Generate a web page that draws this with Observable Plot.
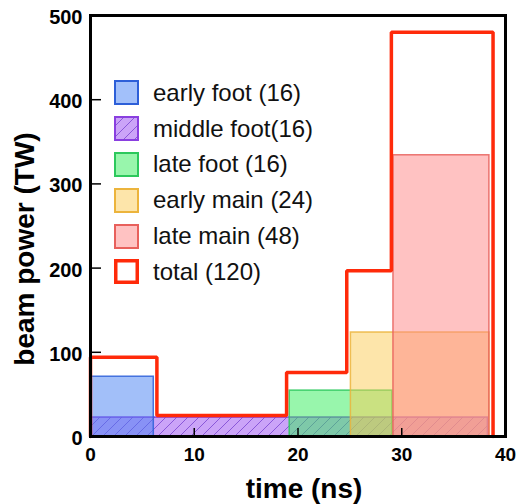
<!DOCTYPE html>
<html>
<head>
<meta charset="utf-8">
<script src="https://cdn.jsdelivr.net/npm/d3@7"></script>
<script src="https://cdn.jsdelivr.net/npm/@observablehq/plot@0.6"></script>
<style>
  html, body { margin: 0; padding: 0; background: #fff; }
  #wrap { position: relative; width: 516px; height: 504px; font-family: "Liberation Sans", Arial, Helvetica, sans-serif; }
  #legend { position: absolute; left: 114px; top: 75px; }
  .row { display: flex; align-items: center; height: 35.8px; }
  .row svg { display: block; }
  .row span { margin-left: 14px; font-size: 24px; color: #111; white-space: nowrap; }
</style>
</head>
<body>
<div id="wrap"></div>
<script>
// ---- data ----
const phases = ["early foot", "middle foot", "late foot", "early main", "late main"];
const legendLabels = ["early foot (16)", "middle foot(16)", "late foot (16)", "early main (24)", "late main (48)", "total (120)"];
const tStart = [0, 0, 19.2, 25.1, 29.2];          // ns
const tEnd = [6.1, 38.3, 29.1, 38.45, 38.45];      // ns
const powerTW = [71, 22.5, 54.5, 123.5, 334];      // TW
const totalTime = [0, 0, 6.4, 18.9, 24.7, 29.0, 38.8];
const totalPower = [0, 94, 25, 76, 197, 480, 0];
const xTicks = [0, 10, 20, 30, 40];
const yTicks = [0, 100, 200, 300, 400, 500];

// ---- styles ----
// base colours drawn at 50% opacity (so on white they show as light tints)
const fills = ["#4580f4", "#9749f1", "#31ed59", "#fbcb55", "#ff8585"];
const legendFills = ["#a2c0fa", "#cba4f8", "#98f6ac", "#fde5aa", "#ffc2c2", "white"];
const strokes = ["#2d5fd8", "#8a3fe0", "#2cc85c", "#ecb43c", "#e8605c"];
const totalColor = "#ff2a0a";
const font = "Liberation Sans, Arial, Helvetica, sans-serif";

const bars = phases.map((p, i) => ({phase: p, x1: tStart[i], x2: tEnd[i], y: powerTW[i], fill: fills[i], stroke: strokes[i]}));
const total = totalTime.map((t, i) => ({t, p: totalPower[i]}));

const defs = () => {
  const d = d3.create("svg:defs");
  const pat = d.append("pattern").attr("id", "hatchP").attr("patternUnits", "userSpaceOnUse")
    .attr("width", 11).attr("height", 11);
  pat.append("path").attr("d", "M0,11 L11,0 M-2,2 L2,-2 M9,13 L13,9")
    .attr("stroke", "#7a45d0").attr("stroke-width", 0.8).attr("fill", "none");
  return d.node();
};

const purple = [bars[1]];
const others = [bars[0], bars[2], bars[3], bars[4]];

const chart = Plot.plot({
  width: 516,
  height: 504,
  marginLeft: 90,
  marginRight: 11,
  marginTop: 15,
  marginBottom: 68,
  style: {fontFamily: font, background: "white", color: "black"},
  x: {domain: [0, 40]},
  y: {domain: [0, 500]},
  color: {type: "identity"},
  marks: [
    defs,
    Plot.rect(purple, {x1: "x1", x2: "x2", y1: () => 0, y2: "y", fill: "fill", fillOpacity: 0.5, stroke: "stroke", strokeWidth: 1.5}),
    Plot.rect(purple, {x1: "x1", x2: "x2", y1: () => 0, y2: "y", fill: "url(#hatchP)"}),
    Plot.rect(others, {x1: "x1", x2: "x2", y1: () => 0, y2: "y", fill: "fill", fillOpacity: 0.5, stroke: "stroke", strokeWidth: 1.5, strokeOpacity: 0.85}),
    Plot.line(total, {x: "t", y: "p", curve: "step-after", stroke: totalColor, strokeWidth: 3.5, strokeLinejoin: "miter"}),
    Plot.axisY(yTicks, {tickSize: 0, tickPadding: 8, fontSize: 20, fontWeight: "bold", dy: 2, label: null}),
    Plot.axisY(yTicks.slice(1, -1), {anchor: "right", frameAnchor: "left", tickSize: 10, strokeWidth: 1.5, tickFormat: () => "", label: null}),
    Plot.axisX(xTicks, {tickSize: 0, tickPadding: 11, fontSize: 19, fontWeight: "bold", label: null}),
    Plot.axisX(xTicks.slice(1, -1), {anchor: "top", frameAnchor: "bottom", tickSize: 9, strokeWidth: 1.5, tickFormat: () => "", label: null}),
    Plot.frame({stroke: "black", strokeWidth: 3}),
    Plot.text(["beam power (TW)"], {frameAnchor: "left", textAnchor: "middle", rotate: -90, dx: -65, dy: 23, fontSize: 28, fontWeight: "bold", lineAnchor: "middle"}),
    Plot.text(["time (ns)"], {frameAnchor: "bottom", textAnchor: "middle", dx: 6, dy: 53, fontSize: 28, fontWeight: "bold", lineAnchor: "middle"})
  ]
});

const wrap = document.getElementById("wrap");
wrap.appendChild(chart);

// ---- legend (HTML overlay) ----
const legend = d3.select(wrap).append("div").attr("id", "legend");
const legendStrokes = [...strokes, totalColor];
legendLabels.forEach((lab, i) => {
  const row = legend.append("div").attr("class", "row");
  const s = row.append("svg").attr("width", 25).attr("height", 25);
  if (i === 1) {
    const p = s.append("defs").append("pattern").attr("id", "hatchL").attr("patternUnits", "userSpaceOnUse")
      .attr("width", 11).attr("height", 11);
    p.append("path").attr("d", "M0,11 L11,0 M-2,2 L2,-2 M9,13 L13,9")
      .attr("stroke", "#7a45d0").attr("stroke-width", 0.8).attr("fill", "none");
  }
  const sw = i === 5 ? 3.5 : 2;
  s.append("rect").attr("x", sw / 2).attr("y", sw / 2).attr("width", 25 - sw).attr("height", 25 - sw)
    .attr("fill", legendFills[i]).attr("stroke", legendStrokes[i]).attr("stroke-width", sw);
  if (i === 1) {
    s.append("rect").attr("x", 1).attr("y", 1).attr("width", 23).attr("height", 23).attr("fill", "url(#hatchL)");
  }
  row.append("span").text(lab);
});
</script>
</body>
</html>
